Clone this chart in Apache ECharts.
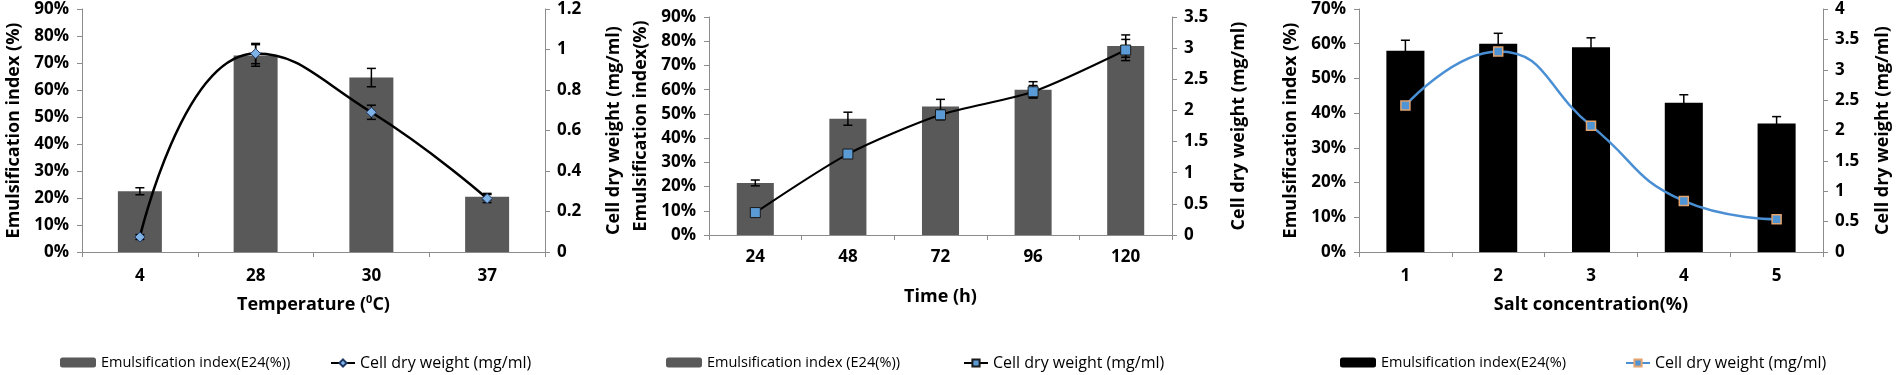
<!DOCTYPE html>
<html>
<head>
<meta charset="utf-8">
<script src="https://cdn.jsdelivr.net/npm/echarts@6/dist/echarts.min.js"></script>
<style>
  html, body { margin: 0; padding: 0; background: #fff; }
  #wrap { position: relative; width: 1900px; height: 375px; }
  .panel { position: absolute; top: 0; height: 375px; }
</style>
</head>
<body>
<div id="wrap">
  <div id="p1" class="panel" style="left:0;width:630px"></div>
  <div id="p2" class="panel" style="left:630px;width:640px"></div>
  <div id="p3" class="panel" style="left:1270px;width:630px"></div>
</div>
<script>
// temperature panel
const tempCats = ['4', '28', '30', '37']
const tempEI = [22.5, 72.8, 64.6, 20.5]
const tempEIErr = [1.3, 4, 3.4, 1.2]
const tempCDW = [0.074, 0.98, 0.69, 0.264]
const tempCDWErr = [0.012, 0.05, 0.035, 0.02]

// time panel
const timeCats = ['24', '48', '72', '96', '120']
const timeEI = [21.5, 48, 53, 60, 78]
const timeEIErr = [1.2, 2.7, 3, 3.3, 4.6]
const timeCDW = [0.36, 1.3, 1.93, 2.3, 2.97]
const timeCDWErr = [0.03, 0.05, 0.08, 0.1, 0.17]

// salt panel
const saltCats = ['1', '2', '3', '4', '5']
const saltEI = [58, 60, 59, 43, 37]
const saltEIErr = [3, 3, 2.7, 2.3, 2]
const saltCDW = [2.41, 3.3, 2.08, 0.84, 0.54]

const FONT = 'Open Sans'
const AXIS_GRAY = '#8c8c8c'

function errData(vals, errs) {
  return vals.map((v, i) => [i, v - errs[i], v + errs[i]])
}

function renderErr(params, api) {
  const x = api.value(0)
  const lo = api.coord([x, api.value(1)])
  const hi = api.coord([x, api.value(2)])
  const w = 4.5
  const style = { stroke: '#000', lineWidth: 1.5 }
  return {
    type: 'group',
    children: [
      { type: 'line', shape: { x1: hi[0], y1: hi[1], x2: lo[0], y2: lo[1] }, style },
      { type: 'line', shape: { x1: hi[0] - w, y1: hi[1], x2: hi[0] + w, y2: hi[1] }, style },
      { type: 'line', shape: { x1: lo[0] - w, y1: lo[1], x2: lo[0] + w, y2: lo[1] }, style }
    ]
  }
}

const tickLabel = { fontFamily: FONT, fontWeight: 'bold', fontSize: 17, color: '#000' }
const titleStyle = { fontFamily: FONT, fontWeight: 'bold', fontSize: 18, color: '#000' }
const axLine = { show: true, lineStyle: { color: AXIS_GRAY, width: 1 } }
const axTick = { show: true, length: 5, lineStyle: { color: AXIS_GRAY } }

function buildOption(p) {
  const series = [
    {
      name: p.barName, type: 'bar', data: p.ei, barWidth: p.barWidth,
      itemStyle: { color: p.barColor }, z: 2
    },
    {
      name: 'barErr', type: 'custom', data: errData(p.ei, p.eiErr),
      renderItem: renderErr, encode: { x: 0, y: [1, 2] }, z: 3, silent: true
    },
    {
      name: p.lineName, type: 'line', yAxisIndex: 1, data: p.cdw, smooth: p.smooth,
      symbol: p.symbol, symbolSize: p.symbolSize,
      lineStyle: { color: p.lineColor, width: p.lineWidth },
      itemStyle: { color: p.markFill, borderColor: p.markBorder, borderWidth: p.markBorderWidth },
      z: 5
    }
  ]
  if (p.cdwErr) {
    series.push({
      name: 'lineErr', type: 'custom', yAxisIndex: 1, data: errData(p.cdw, p.cdwErr),
      renderItem: renderErr, encode: { x: 0, y: [1, 2] }, z: 4, silent: true
    })
  }
  return {
    backgroundColor: '#fff',
    animation: false,
    grid: { left: p.grid[0], top: p.grid[1], width: p.grid[2], height: p.grid[3], outerBoundsMode: 'none' },
    legend: [
      {
        data: [p.barName], left: p.legBar, top: 350, itemWidth: 36, itemHeight: 10,
        textStyle: { fontFamily: FONT, fontSize: 14.5, color: '#000' }, selectedMode: false
      },
      {
        data: [p.lineName], left: p.legLine, top: 350, itemWidth: 24, itemHeight: 9,
        textStyle: { fontFamily: FONT, fontSize: 16, color: '#000' }, selectedMode: false
      }
    ],
    xAxis: {
      type: 'category', data: p.cats,
      name: p.xName, nameLocation: 'middle', nameGap: p.xNameGap,
      nameTextStyle: Object.assign({}, titleStyle, {
        lineHeight: 22,
        rich: { sup: { fontFamily: FONT, fontWeight: 'bold', fontSize: 11, lineHeight: 12, verticalAlign: 'top', color: '#000' } }
      }),
      axisLine: axLine, axisTick: axTick,
      axisLabel: Object.assign({ margin: p.xLabelMargin }, tickLabel)
    },
    yAxis: [
      {
        type: 'value', min: 0, max: p.leftMax, interval: 10,
        name: p.leftName, nameLocation: 'middle', nameGap: p.leftGap, nameRotate: 90,
        nameTextStyle: titleStyle,
        axisLine: axLine, axisTick: axTick, splitLine: { show: false },
        axisLabel: Object.assign({ formatter: '{value}%', margin: 13 }, tickLabel)
      },
      {
        type: 'value', position: 'right', min: 0, max: p.rightMax, interval: p.rightInt,
        name: 'Cell dry weight (mg/ml)', nameLocation: 'middle', nameGap: p.rightGap, nameRotate: 90,
        nameTextStyle: titleStyle,
        axisLine: axLine, axisTick: axTick, splitLine: { show: false },
        axisLabel: Object.assign({ margin: 12 }, tickLabel)
      }
    ],
    series
  }
}

const panels = [
  {
    el: 'p1', cats: tempCats, ei: tempEI, eiErr: tempEIErr, cdw: tempCDW, cdwErr: tempCDWErr,
    grid: [82, 9, 463, 243], barWidth: '38%', barColor: '#595959',
    barName: 'Emulsification index(E24(%))', lineName: 'Cell dry weight (mg/ml)',
    legBar: 55, legLine: 325,
    xName: 'Temperature ({sup|0}C)', xNameGap: 42, xLabelMargin: 16,
    leftName: 'Emulsification index (%)', leftGap: 56, leftMax: 90,
    rightGap: 60, rightMax: 1.2, rightInt: 0.2,
    smooth: 0.5, symbol: 'diamond', symbolSize: 10, lineColor: '#000', lineWidth: 2.5,
    markFill: '#7fb2e5', markBorder: '#1f3864', markBorderWidth: 1
  },
  {
    el: 'p2', cats: timeCats, ei: timeEI, eiErr: timeEIErr, cdw: timeCDW, cdwErr: timeCDWErr,
    grid: [79, 17, 463, 218], barWidth: '40%', barColor: '#595959',
    barName: 'Emulsification index (E24(%))', lineName: 'Cell dry weight (mg/ml)',
    legBar: 31, legLine: 328,
    xName: 'Time (h)', xNameGap: 51, xLabelMargin: 14,
    leftName: 'Emulsification index(%)', leftGap: 53, leftMax: 90,
    rightGap: 58, rightMax: 3.5, rightInt: 0.5,
    smooth: 0.25, symbol: 'rect', symbolSize: 10, lineColor: '#000', lineWidth: 2,
    markFill: '#5b9bd5', markBorder: '#1a1a1a', markBorderWidth: 1
  },
  {
    el: 'p3', cats: saltCats, ei: saltEI, eiErr: saltEIErr, cdw: saltCDW, cdwErr: null,
    grid: [89, 9, 464, 243], barWidth: '41%', barColor: '#000',
    barName: 'Emulsification index(E24(%)', lineName: 'Cell dry weight (mg/ml)',
    legBar: 65, legLine: 350,
    xName: 'Salt concentration(%)', xNameGap: 42, xLabelMargin: 16,
    leftName: 'Emulsification index (%)', leftGap: 55, leftMax: 70,
    rightGap: 51, rightMax: 4, rightInt: 0.5,
    smooth: 0.5, symbol: 'rect', symbolSize: 9, lineColor: '#4a8fd4', lineWidth: 2.5,
    markFill: '#4f94d4', markBorder: '#e3a46f', markBorderWidth: 1.5
  }
]

panels.forEach(p => {
  const chart = echarts.init(document.getElementById(p.el))
  chart.setOption(buildOption(p))
})
</script>
</body>
</html>
